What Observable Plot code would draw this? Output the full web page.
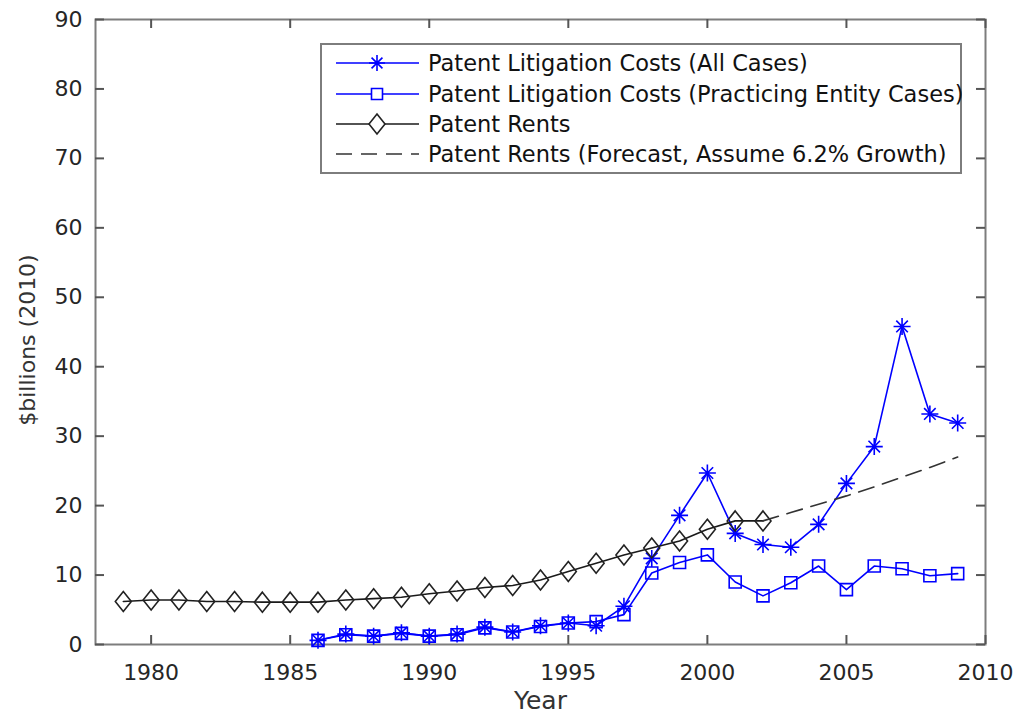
<!DOCTYPE html>
<html>
<head>
<meta charset="utf-8">
<script src="https://cdn.jsdelivr.net/npm/d3@7"></script>
<script src="https://cdn.jsdelivr.net/npm/@observablehq/plot@0.6"></script>
<style>
  html, body { margin: 0; padding: 0; background: #fff; }
  #wrap { position: relative; width: 1018px; height: 719px; }
  #legend { position: absolute; left: 320px; top: 43px; }
</style>
</head>
<body>
<div id="wrap"></div>
<script>
// ---- data ----
const litigationYears = [1986,1987,1988,1989,1990,1991,1992,1993,1994,1995,1996,1997,1998,1999,2000,2001,2002,2003,2004,2005,2006,2007,2008,2009];
const allCases = [0.6,1.5,1.2,1.7,1.2,1.5,2.5,1.8,2.7,3.1,2.7,5.5,12.4,18.6,24.7,16.0,14.4,14.0,17.3,23.2,28.5,45.8,33.2,31.9];
const practicingCases = [0.6,1.4,1.2,1.6,1.2,1.4,2.4,1.8,2.6,3.1,3.3,4.3,10.3,11.8,12.9,9.0,7.0,8.9,11.3,7.9,11.3,10.9,9.9,10.2];
const rentYears = [1979,1980,1981,1982,1983,1984,1985,1986,1987,1988,1989,1990,1991,1992,1993,1994,1995,1996,1997,1998,1999,2000,2001,2002];
const rents = [6.2,6.4,6.4,6.2,6.2,6.1,6.1,6.1,6.4,6.6,6.8,7.3,7.7,8.2,8.5,9.3,10.5,11.7,12.9,13.9,14.9,16.6,17.8,17.8];
const forecastYears = [2002,2003,2004,2005,2006,2007,2008,2009];
const forecast = [17.8,19.0,20.2,21.4,22.7,24.1,25.5,27.0];
const xTicks = [1980,1985,1990,1995,2000,2005,2010];
const yTicks = [0,10,20,30,40,50,60,70,80,90];
const seriesNames = [
  "Patent Litigation Costs (All Cases)",
  "Patent Litigation Costs (Practicing Entity Cases)",
  "Patent Rents",
  "Patent Rents (Forecast, Assume 6.2% Growth)"
];

const toRows = (xs, ys) => xs.map((x, i) => ({x, y: ys[i]}));
const allRows = toRows(litigationYears, allCases);
const pracRows = toRows(litigationYears, practicingCases);
const rentRows = toRows(rentYears, rents);
const fcRows = toRows(forecastYears, forecast);

// ---- custom MATLAB-like markers ----
const asterisk8 = {draw(ctx, size) {
  const r = Math.sqrt(size / Math.PI), d = r * 0.68;
  ctx.moveTo(-r, 0); ctx.lineTo(r, 0);
  ctx.moveTo(0, -r); ctx.lineTo(0, r);
  ctx.moveTo(-d, -d); ctx.lineTo(d, d);
  ctx.moveTo(-d, d); ctx.lineTo(d, -d);
}};
const squareM = {draw(ctx, size) {
  const r = Math.sqrt(size / Math.PI);
  ctx.moveTo(-r, -r); ctx.lineTo(r, -r); ctx.lineTo(r, r); ctx.lineTo(-r, r); ctx.closePath();
}};
const diamondM = {draw(ctx, size) {
  const r = Math.sqrt(size / Math.PI), w = r * 0.8;
  ctx.moveTo(0, -r); ctx.lineTo(w, 0); ctx.lineTo(0, r); ctx.lineTo(-w, 0); ctx.closePath();
}};

const BLUE = "#0000ff";
const DARK = "#1a1a1a";
const AX = "#7d7d7d";
const TICK = "#555";
const TXT = "#262626";
const FONT = "'DejaVu Sans', Verdana, sans-serif";

const W = 1018, H = 719, ML = 95, MR = 33, MT = 19, MB = 75;
const TS = 9; // inward tick length, px
const frameW = W - ML - MR, frameH = H - MT - MB;

const chart = Plot.plot({
  width: W,
  height: H,
  marginLeft: ML,
  marginRight: MR,
  marginTop: MT,
  marginBottom: MB,
  style: {fontFamily: FONT, fontSize: "22px", background: "#fff", color: TXT},
  x: {domain: [1978, 2010]},
  y: {domain: [0, 90]},
  marks: [
    // tick labels
    Plot.axisX({ticks: xTicks, tickFormat: d => String(d), tickSize: 0, tickPadding: 20, fill: TXT, label: null}),
    Plot.axisY({ticks: yTicks, tickSize: 0, tickPadding: 13, fill: TXT, label: null}),
    Plot.frame({stroke: AX, strokeWidth: 2}),
    // inward tick marks on all four sides (rules shortened by insets)
    Plot.ruleX(xTicks, {x: d => d, insetTop: frameH - TS, stroke: TICK, strokeWidth: 2}),
    Plot.ruleX(xTicks, {x: d => d, insetBottom: frameH - TS, stroke: TICK, strokeWidth: 2}),
    Plot.ruleY(yTicks, {y: d => d, insetRight: frameW - TS, stroke: TICK, strokeWidth: 2}),
    Plot.ruleY(yTicks, {y: d => d, insetLeft: frameW - TS, stroke: TICK, strokeWidth: 2}),
    // axis titles
    Plot.text(["Year"], {frameAnchor: "bottom", textAnchor: "middle", dy: 64, fontSize: 25, fill: "#333"}),
    Plot.text(["$billions (2010)"], {frameAnchor: "left", textAnchor: "middle", rotate: -90, dx: -68, dy: 8, fontSize: 22, fill: "#333"}),
    // All cases
    Plot.line(allRows, {x: "x", y: "y", stroke: BLUE, strokeWidth: 1.6}),
    Plot.dot(allRows, {x: "x", y: "y", symbol: asterisk8, r: 8.5, stroke: BLUE, fill: "none", strokeWidth: 1.6}),
    // Practicing entity
    Plot.line(pracRows, {x: "x", y: "y", stroke: BLUE, strokeWidth: 1.6}),
    Plot.dot(pracRows, {x: "x", y: "y", symbol: squareM, r: 6, stroke: BLUE, fill: "none", strokeWidth: 1.6}),
    // Rents
    Plot.line(rentRows, {x: "x", y: "y", stroke: DARK, strokeWidth: 1.6}),
    Plot.dot(rentRows, {x: "x", y: "y", symbol: diamondM, r: 10, stroke: "#222", fill: "none", strokeWidth: 1.6}),
    // Forecast
    Plot.line(fcRows, {x: "x", y: "y", stroke: "#333", strokeWidth: 1.6, strokeDasharray: "16,9"})
  ]
});
document.getElementById("wrap").appendChild(chart);

// ---- legend (inside plot area, top right) ----
const lw = 642, lh = 131;
const leg = d3.create("svg").attr("id", "legend").attr("width", lw).attr("height", lh)
  .style("font-family", FONT).style("font-size", "22.5px");
leg.append("rect").attr("x", 1).attr("y", 1).attr("width", lw - 2).attr("height", lh - 2)
  .attr("fill", "#fff").attr("stroke", AX).attr("stroke-width", 2);
const rowY = [20, 51, 81, 111];
const styles = [
  {stroke: BLUE, dash: null, sym: asterisk8, size: Math.PI * 8 * 8, mstroke: BLUE},
  {stroke: BLUE, dash: null, sym: squareM, size: Math.PI * 5.5 * 5.5, mstroke: BLUE},
  {stroke: DARK, dash: null, sym: diamondM, size: Math.PI * 10 * 10, mstroke: "#222"},
  {stroke: "#333", dash: "16,9", sym: null}
];
seriesNames.forEach((name, i) => {
  const g = leg.append("g").attr("transform", `translate(0,${rowY[i]})`);
  const s = styles[i];
  g.append("line").attr("x1", 16).attr("x2", 99).attr("y1", 0).attr("y2", 0)
    .attr("stroke", s.stroke).attr("stroke-width", 1.6).attr("stroke-dasharray", s.dash);
  if (s.sym) {
    g.append("path").attr("d", d3.symbol(s.sym, s.size)()).attr("transform", "translate(57,0)")
      .attr("fill", "#fff").attr("stroke", s.mstroke).attr("stroke-width", 1.6);
  }
  g.append("text").attr("x", 108).attr("y", 0).attr("dy", "0.36em").attr("fill", "#111").text(name);
});
document.getElementById("wrap").appendChild(leg.node());
</script>
</body>
</html>
